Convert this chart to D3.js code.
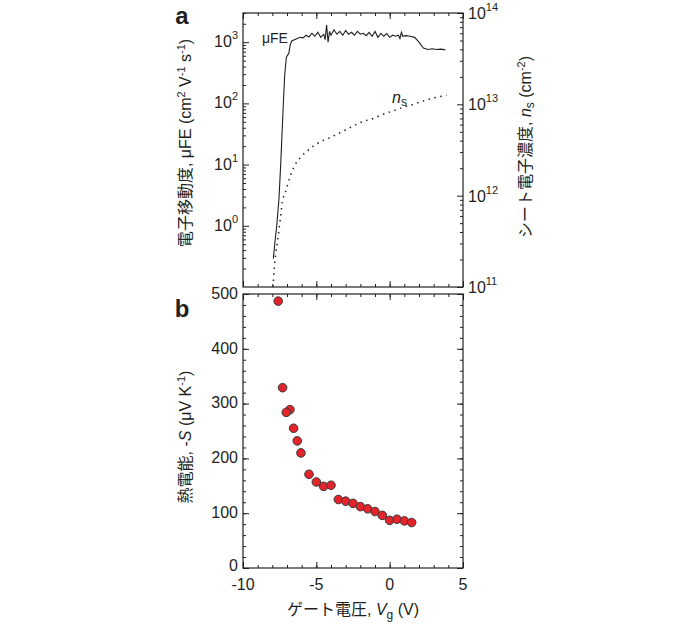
<!DOCTYPE html>
<html><head><meta charset="utf-8">
<script src="https://cdn.jsdelivr.net/npm/d3@7"></script>
<style>
body{margin:0;background:#fff;}
svg text{font-family:"Liberation Sans",Arial,"Noto Sans CJK JP",sans-serif;fill:#231f20;}
</style></head>
<body><svg id="c" width="700" height="625"></svg>
<script>
// ---- data ----
const muVg = [-7.93,-7.82,-7.70,-7.55,-7.43,-7.25,-7.16,-7.05,-6.95,-6.88,-6.78,-6.68,-6.5,-6.3,-6.1,-5.9,-5.7,-5.5,-5.3,-5.1,-4.9,-4.7,-4.5,-4.4,-4.3,-4.2,-4.1,-4.0,-3.8,-3.6,-3.4,-3.2,-3.0,-2.8,-2.6,-2.4,-2.2,-2.0,-1.8,-1.6,-1.4,-1.2,-1.0,-0.8,-0.6,-0.4,-0.2,0.0,0.2,0.4,0.6,0.7,0.8,0.9,1.1,1.4,1.7,2.0,2.3,2.6,2.9,3.2,3.5,3.8];
const muVal = [0.29,0.55,1.0,2.7,10,100,280,560,620,650,900,1050,1100,1150,1200,1180,1300,1220,1400,1250,1450,1200,1350,1100,1900,1000,1500,1300,1600,1350,1500,1300,1550,1350,1450,1300,1500,1350,1400,1280,1450,1250,1500,1200,1400,1250,1380,1200,1300,1250,1300,1150,1450,1250,1280,1250,1200,1000,800,760,780,760,770,750];
const nsVg = [-7.95,-7.87,-7.77,-7.64,-7.52,-7.41,-7.32,-7.1,-6.8,-6.5,-6.1,-5.6,-5.2,-4.7,-4.1,-3.6,-3.05,-2.48,-1.8,-1.12,-0.44,0.25,0.93,1.61,2.29,2.97,3.88];
const nsVal = [1.0e11,1.6e11,2.3e11,3.2e11,4.6e11,6.4e11,8.5e11,1.1e12,1.6e12,2.1e12,2.6e12,3.1e12,3.5e12,3.9e12,4.3e12,4.7e12,5.2e12,5.8e12,6.5e12,7.0e12,7.8e12,8.5e12,9.3e12,1.0e13,1.09e13,1.17e13,1.26e13];
const sVg = [-7.6,-7.3,-6.8,-7.05,-6.55,-6.3,-6.05,-5.5,-5.0,-4.5,-4.0,-3.5,-3.0,-2.5,-2.0,-1.5,-1.0,-0.5,0.0,0.5,1.0,1.5];
const sVal = [487,329,289,284,255,232,210,171,157,149,151,125,122,118,112,108,103,96,87,89,86,83];
const xTicks = [-10,-5,0,5];
const muTicks = [1,10,100,1000];      // labelled 10^0..10^3
const nsTicks = [1e11,1e12,1e13,1e14]; // labelled 10^11..10^14
const sTicks = [0,100,200,300,400,500];

// ---- layout ----
const svg = d3.select("#c");
const L = 243, R = 463, aT = 13, aB = 287, bT = 294, bB = 568;
const x = d3.scaleLinear([-10,5],[L,R]);
const yMu = d3.scaleLog([0.1,3000],[aB,aT]);
const yNs = d3.scaleLog([1e11,1e14],[aB,aT]);
const yS = d3.scaleLinear([0,500],[bB,bT]);

const xMinor = d3.range(-10,6,1);
const muMinor = [];
[0.1,1,10,100,1000].forEach(d=>{for(let k=2;k<=9;k++){const v=d*k;if(v<=3000)muMinor.push(v);}});
const nsMinor = [];
[1e11,1e12,1e13].forEach(d=>{for(let k=2;k<=9;k++)nsMinor.push(d*k);});
const sMinor = d3.range(0,501,20);

function ax(gen, tr, vals, size){
  const g = svg.append("g").attr("transform",tr)
    .call(gen.tickValues(vals).tickSize(size).tickSizeOuter(0).tickFormat(""));
  g.select(".domain").remove();
  g.selectAll("line").attr("stroke","#231f20");
  return g;
}
function frame(top,bot){
  svg.append("rect").attr("x",L).attr("y",top).attr("width",R-L).attr("height",bot-top)
    .attr("fill","none").attr("stroke","#231f20").attr("stroke-width",1.2);
}
// panel a ticks
ax(d3.axisBottom(x),`translate(0,${aT})`,xMinor,3);
ax(d3.axisBottom(x),`translate(0,${aT})`,xTicks,6);
ax(d3.axisTop(x),`translate(0,${aB})`,xMinor,3);
ax(d3.axisTop(x),`translate(0,${aB})`,xTicks,6);
ax(d3.axisRight(yMu),`translate(${L},0)`,muMinor,3);
ax(d3.axisRight(yMu),`translate(${L},0)`,muTicks,6);
ax(d3.axisLeft(yNs),`translate(${R},0)`,nsMinor,3);
ax(d3.axisLeft(yNs),`translate(${R},0)`,nsTicks,6);
frame(aT,aB);
// panel b ticks
ax(d3.axisBottom(x),`translate(0,${bT})`,xMinor,3);
ax(d3.axisBottom(x),`translate(0,${bT})`,xTicks,6);
ax(d3.axisTop(x),`translate(0,${bB})`,xMinor,3);
ax(d3.axisTop(x),`translate(0,${bB})`,xTicks,6);
ax(d3.axisRight(yS),`translate(${L},0)`,sMinor,3);
ax(d3.axisRight(yS),`translate(${L},0)`,sTicks,6);
ax(d3.axisLeft(yS),`translate(${R},0)`,sMinor,3);
ax(d3.axisLeft(yS),`translate(${R},0)`,sTicks,6);
frame(bT,bB);

// tick labels
function powLabel(xp, yp, exp, anchor){
  const t = svg.append("text").attr("x",xp).attr("y",yp).attr("font-size",16)
    .attr("text-anchor",anchor).attr("dominant-baseline","middle");
  t.append("tspan").text("10");
  t.append("tspan").attr("font-size",11).attr("dy",-7).text(exp);
}
muTicks.forEach(v=>powLabel(L-5, yMu(v)+1, String(Math.round(Math.log10(v))), "end"));
nsTicks.forEach(v=>powLabel(R+5, yNs(v)+2, String(Math.round(Math.log10(v))), "start"));
sTicks.forEach(v=>svg.append("text").attr("x",L-5).attr("y",yS(v)-(v===0?3:1)).attr("dy","0.36em")
  .attr("font-size",16).attr("text-anchor","end").text(v));
xTicks.forEach(v=>svg.append("text").attr("x",x(v)).attr("y",bB+16).attr("dy","0.36em")
  .attr("font-size",16).attr("text-anchor","middle").text(v));

// data marks
const muData = muVg.map((v,i)=>[v,muVal[i]]);
const nsData = nsVg.map((v,i)=>[v,nsVal[i]]);
svg.append("path").datum(muData)
  .attr("d",d3.line().x(d=>x(d[0])).y(d=>yMu(d[1])))
  .attr("fill","none").attr("stroke","#231f20").attr("stroke-width",1.1);
svg.append("path").datum(nsData)
  .attr("d",d3.line().curve(d3.curveMonotoneX).x(d=>x(d[0])).y(d=>yNs(d[1])))
  .attr("fill","none").attr("stroke","#231f20").attr("stroke-width",1.5)
  .attr("stroke-dasharray","1.5,4.5");
svg.append("g").selectAll("circle").data(sVg.map((v,i)=>[v,sVal[i]])).join("circle")
  .attr("cx",d=>x(d[0])).attr("cy",d=>yS(d[1])).attr("r",4.3)
  .attr("fill","#e3242b").attr("stroke","#3a3a3a").attr("stroke-width",1);

// in-plot labels
svg.append("text").attr("x",262).attr("y",43).attr("font-size",14).text("μFE");
const ns = svg.append("text").attr("x",392).attr("y",103).attr("font-size",16);
ns.append("tspan").attr("font-style","italic").text("n");
ns.append("tspan").attr("font-size",12).attr("dy",3).text("s");

// panel letters
svg.append("text").attr("x",182).attr("y",24).attr("font-size",24).attr("font-weight","bold")
  .attr("text-anchor","middle").text("a");
svg.append("text").attr("x",182).attr("y",317).attr("font-size",24).attr("font-weight","bold")
  .attr("text-anchor","middle").text("b");

// axis titles
function rotTitle(cx, cy, parts){
  const t = svg.append("text").attr("transform",`translate(${cx},${cy}) rotate(-90)`)
    .attr("text-anchor","middle").attr("font-size",16);
  parts.forEach(p=>{
    const s = t.append("tspan").text(p.t);
    if(p.sup){s.attr("font-size",11).attr("dy",-6);}
    if(p.sub){s.attr("font-size",12).attr("dy",3);}
    if(p.back){s.attr("dy",p.back);}
    if(p.it){s.attr("font-style","italic");}
  });
}
rotTitle(191,143,[{t:"電子移動度, μFE (cm"},{t:"2",sup:1},{t:" V",back:6},{t:"-1",sup:1},{t:" s",back:6},{t:"-1",sup:1},{t:")",back:6}]);
rotTitle(531,147,[{t:"シート電子濃度, "},{t:"n",it:1},{t:"s",sub:1},{t:" (cm",back:-3},{t:"-2",sup:1},{t:")",back:6}]);
rotTitle(191,437,[{t:"熱電能,  -"},{t:"S",it:1},{t:" (μV K"},{t:"-1",sup:1},{t:")",back:6}]);
const xt = svg.append("text").attr("x",353).attr("y",615).attr("text-anchor","middle").attr("font-size",16);
xt.append("tspan").text("ゲート電圧, ");
xt.append("tspan").attr("font-style","italic").text("V");
xt.append("tspan").attr("font-size",12).attr("dy",4).text("g");
xt.append("tspan").attr("dy",-4).text(" (V)");
</script></body></html>
